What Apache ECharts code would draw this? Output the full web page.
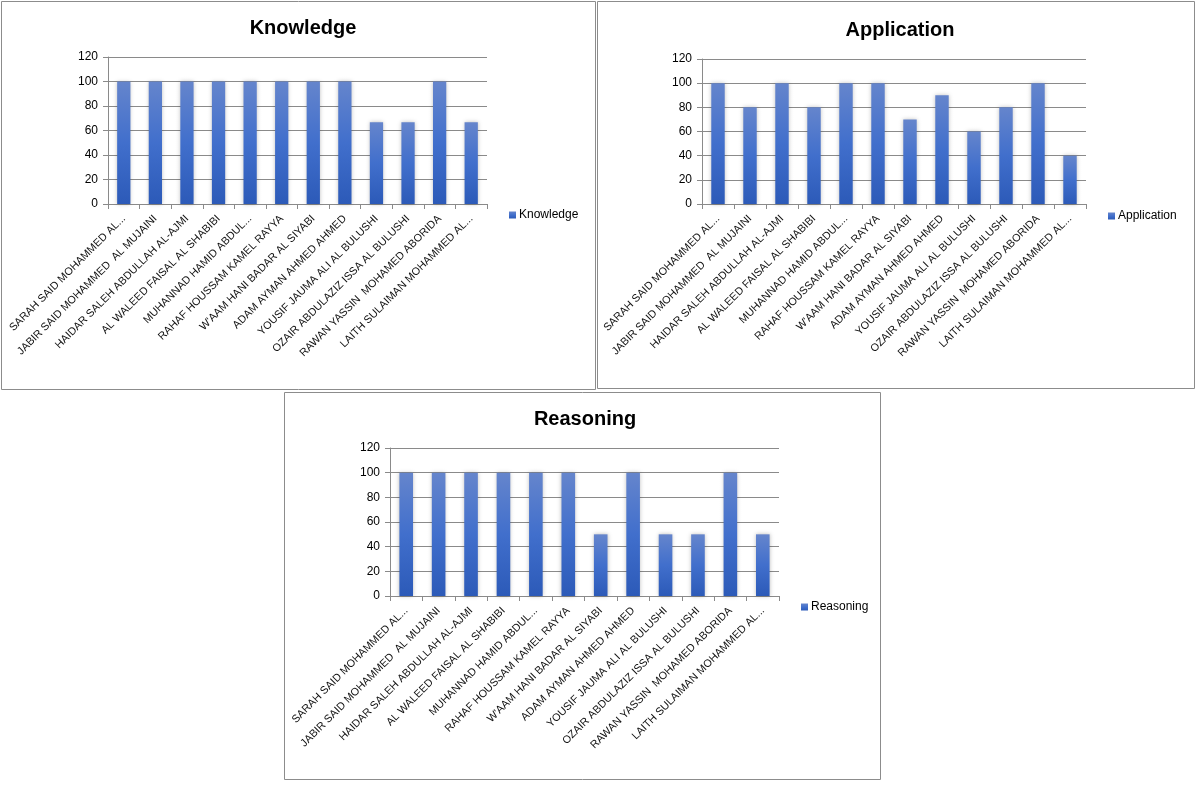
<!DOCTYPE html>
<html>
<head>
<meta charset="utf-8">
<style>html,body{margin:0;padding:0;background:#fff;}#c{width:1200px;height:785px;}</style>
<script src="https://cdn.jsdelivr.net/npm/echarts@6/dist/echarts.min.js"></script>
</head>
<body>
<div id="c"></div>
<script>
const categories = [
  "SARAH SAID MOHAMMED AL...",
  "JABIR SAID MOHAMMED  AL MUJAINI",
  "HAIDAR SALEH ABDULLAH AL-AJMI",
  "AL WALEED FAISAL AL SHABIBI",
  "MUHANNAD HAMID ABDUL...",
  "RAHAF HOUSSAM KAMEL RAYYA",
  "W'AAM HANI BADAR AL SIYABI",
  "ADAM AYMAN AHMED AHMED",
  "YOUSIF JAUMA ALI AL BULUSHI",
  "OZAIR ABDULAZIZ ISSA AL BULUSHI",
  "RAWAN YASSIN  MOHAMED ABORIDA",
  "LAITH SULAIMAN MOHAMMED AL..."
];
const knowledge = [100, 100, 100, 100, 100, 100, 100, 100, 66.67, 66.67, 100, 66.67];
const application = [100, 80, 100, 80, 100, 100, 70, 90, 60, 80, 100, 40];
const reasoning = [100, 100, 100, 100, 100, 100, 50, 100, 50, 50, 100, 50];
const yTicks = [0, 20, 40, 60, 80, 100, 120];

const panels = [
  {name: "Knowledge", data: knowledge, box: [1, 1, 594, 388], grid: {left: 108, top: 57, width: 379, height: 147}, titleX: 298, titleY: 13, legend: [504, 204]},
  {name: "Application", data: application, box: [597, 1, 597, 387], grid: {left: 702, top: 59, width: 384, height: 145}, titleX: 895, titleY: 15, legend: [1103, 205]},
  {name: "Reasoning", data: reasoning, box: [284, 392, 596, 387], grid: {left: 390, top: 448, width: 389, height: 148}, titleX: 580, titleY: 404, legend: [796, 596]}
];

const barColor = new echarts.graphic.LinearGradient(0, 0, 0, 1, [
  {offset: 0, color: '#6585cc'},
  {offset: 0.5, color: '#416fcc'},
  {offset: 1, color: '#2c5ab8'}
]);
const gridColor = '#8a8a8a';
const fontFam = 'Liberation Sans, Arial, sans-serif';

const option = {
  backgroundColor: '#fff',
  animation: false,
  title: panels.map(p => ({
    text: p.name, left: p.titleX, top: p.titleY, textAlign: 'center',
    textStyle: {fontFamily: fontFam, fontWeight: 'bold', fontSize: 20, color: '#000'}
  })),
  legend: panels.map((p, i) => ({
    data: [p.name], left: p.legend[0], top: p.legend[1], orient: 'vertical',
    icon: 'rect', itemWidth: 7, itemHeight: 7, itemGap: 4,
    textStyle: {fontFamily: fontFam, fontSize: 12, color: '#000', padding: [0, 0, 0, -2]},
    selectedMode: false
  })),
  grid: panels.map(p => Object.assign({containLabel: false}, p.grid)),
  xAxis: panels.map((p, i) => ({
    type: 'category', gridIndex: i, data: categories, boundaryGap: true,
    axisLine: {show: true, lineStyle: {color: gridColor, width: 1}},
    axisTick: {show: true, length: 5, lineStyle: {color: gridColor}},
    axisLabel: {rotate: 45, interval: 0, margin: 13, padding: [12, 0, 0, 0], fontFamily: fontFam, fontSize: 10.8, color: '#111'},
    splitLine: {show: false}
  })),
  yAxis: panels.map((p, i) => ({
    type: 'value', gridIndex: i, min: yTicks[0], max: yTicks[yTicks.length - 1], interval: 20,
    axisLine: {show: true, lineStyle: {color: gridColor, width: 1}},
    axisTick: {show: true, length: 5, lineStyle: {color: gridColor}},
    axisLabel: {margin: 10, fontFamily: fontFam, fontSize: 12, color: '#000'},
    splitLine: {show: true, lineStyle: {color: gridColor, width: 1}}
  })),
  series: panels.map((p, i) => ({
    type: 'bar', name: p.name, xAxisIndex: i, yAxisIndex: i, data: p.data,
    barWidth: '42%',
    itemStyle: {color: barColor, shadowBlur: 4, shadowColor: 'rgba(0,0,0,0.25)', shadowOffsetX: 0, shadowOffsetY: 0}
  })),
  graphic: panels.map(p => ({
    type: 'rect', shape: {x: p.box[0] + 0.5, y: p.box[1] + 0.5, width: p.box[2], height: p.box[3]},
    style: {fill: 'none', stroke: '#8c8c8c', lineWidth: 1}, silent: true, z: 100
  }))
};

const chart = echarts.init(document.getElementById('c'));
chart.setOption(option);
</script>
</body>
</html>
